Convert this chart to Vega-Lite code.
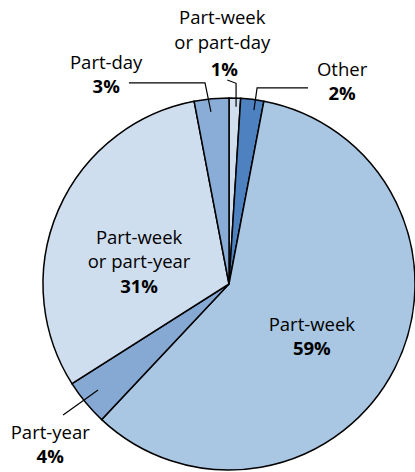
{
  "$schema": "https://vega.github.io/schema/vega-lite/v6.json",
  "width": 372,
  "height": 372,
  "autosize": "none",
  "padding": {"left": 43, "top": 98, "right": 0, "bottom": 2},
  "background": "white",
  "config": {"view": {"stroke": null}, "text": {"font": "Open Sans", "fontSize": 18.5, "fill": "black", "align": "center", "baseline": "alphabetic"}},
  "datasets": {
    "slices": [
      {"category": "Part-week or part-day", "line1": "Part-week", "line2": "or part-day", "share": 0.01, "rank": 1},
      {"category": "Other", "line1": "Other", "line2": "", "share": 0.02, "rank": 2},
      {"category": "Part-week", "line1": "Part-week", "line2": "", "share": 0.59, "rank": 3},
      {"category": "Part-year", "line1": "Part-year", "line2": "", "share": 0.04, "rank": 4},
      {"category": "Part-week or part-year", "line1": "Part-week", "line2": "or part-year", "share": 0.31, "rank": 5},
      {"category": "Part-day", "line1": "Part-day", "line2": "", "share": 0.03, "rank": 6}
    ],
    "leaders": [
      {"leader": "Part-week or part-day", "i": 1, "x": -0.009, "y": 1.097},
      {"leader": "Part-week or part-day", "i": 2, "x": 0.038, "y": 1.079},
      {"leader": "Part-week or part-day", "i": 3, "x": 0.038, "y": 0.953},
      {"leader": "Part-day", "i": 1, "x": -0.538, "y": 1.081},
      {"leader": "Part-day", "i": 2, "x": -0.129, "y": 1.081},
      {"leader": "Part-day", "i": 3, "x": -0.097, "y": 0.925},
      {"leader": "Other", "i": 1, "x": 0.425, "y": 1.054},
      {"leader": "Other", "i": 2, "x": 0.151, "y": 1.054},
      {"leader": "Other", "i": 3, "x": 0.134, "y": 0.935},
      {"leader": "Part-year", "i": 1, "x": -0.892, "y": -0.704},
      {"leader": "Part-year", "i": 2, "x": -0.704, "y": -0.57}
    ]
  },
  "layer": [
    {
      "data": {"name": "slices"},
      "mark": {"type": "arc", "stroke": "black", "strokeWidth": 1.5},
      "encoding": {
        "theta": {"field": "share", "type": "quantitative", "stack": true},
        "order": {"field": "rank", "type": "quantitative"},
        "color": {
          "field": "category", "type": "nominal", "legend": null,
          "scale": {
            "domain": ["Part-week or part-day", "Other", "Part-week", "Part-year", "Part-week or part-year", "Part-day"],
            "range": ["#d0deee", "#4d81c0", "#a9c6e2", "#86a9d4", "#cfdeef", "#8aadd8"]
          }
        }
      }
    },
    {
      "data": {"name": "leaders"},
      "mark": {"type": "line", "stroke": "black", "strokeWidth": 1.2},
      "encoding": {
        "x": {"field": "x", "type": "quantitative", "axis": null, "scale": {"domain": [-1, 1], "nice": false, "zero": false}},
        "y": {"field": "y", "type": "quantitative", "axis": null, "scale": {"domain": [-1, 1], "nice": false, "zero": false}},
        "detail": {"field": "leader"},
        "order": {"field": "i", "type": "quantitative"}
      }
    },
    {
      "data": {"name": "slices"},
      "mark": {"type": "text", "radius": 93, "dy": 5},
      "encoding": {
        "theta": {"field": "share", "type": "quantitative", "stack": true},
        "detail": {"field": "category"}, "order": {"field": "rank", "type": "quantitative"},
        "text": {"field": "line1", "condition": {"test": "datum.category !== 'Part-week'", "value": ""}}
      }
    },
    {
      "data": {"name": "slices"},
      "mark": {"type": "text", "radius": 93, "dy": 29, "fontWeight": "bold"},
      "encoding": {
        "theta": {"field": "share", "type": "quantitative", "stack": true},
        "detail": {"field": "category"}, "order": {"field": "rank", "type": "quantitative"},
        "text": {"field": "share", "format": ".0%", "condition": {"test": "datum.category !== 'Part-week'", "value": ""}}
      }
    },
    {
      "data": {"name": "slices"},
      "mark": {"type": "text", "radius": 98, "dy": -1},
      "encoding": {
        "theta": {"field": "share", "type": "quantitative", "stack": true},
        "detail": {"field": "category"}, "order": {"field": "rank", "type": "quantitative"},
        "text": {"field": "line1", "condition": {"test": "datum.category !== 'Part-week or part-year'", "value": ""}}
      }
    },
    {
      "data": {"name": "slices"},
      "mark": {"type": "text", "radius": 98, "dy": 23},
      "encoding": {
        "theta": {"field": "share", "type": "quantitative", "stack": true},
        "detail": {"field": "category"}, "order": {"field": "rank", "type": "quantitative"},
        "text": {"field": "line2", "condition": {"test": "datum.category !== 'Part-week or part-year'", "value": ""}}
      }
    },
    {
      "data": {"name": "slices"},
      "mark": {"type": "text", "radius": 98, "dy": 48, "fontWeight": "bold"},
      "encoding": {
        "theta": {"field": "share", "type": "quantitative", "stack": true},
        "detail": {"field": "category"}, "order": {"field": "rank", "type": "quantitative"},
        "text": {"field": "share", "format": ".0%", "condition": {"test": "datum.category !== 'Part-week or part-year'", "value": ""}}
      }
    },
    {
      "data": {"name": "slices"},
      "mark": {"type": "text", "radius": 232, "dy": 7},
      "encoding": {
        "theta": {"field": "share", "type": "quantitative", "stack": true},
        "detail": {"field": "category"}, "order": {"field": "rank", "type": "quantitative"},
        "text": {"field": "line1", "condition": {"test": "datum.category !== 'Part-year'", "value": ""}}
      }
    },
    {
      "data": {"name": "slices"},
      "mark": {"type": "text", "radius": 232, "dy": 31, "fontWeight": "bold"},
      "encoding": {
        "theta": {"field": "share", "type": "quantitative", "stack": true},
        "detail": {"field": "category"}, "order": {"field": "rank", "type": "quantitative"},
        "text": {"field": "share", "format": ".0%", "condition": {"test": "datum.category !== 'Part-year'", "value": ""}}
      }
    },
    {
      "data": {"name": "slices"},
      "mark": {"type": "text", "radius": 200, "dx": -104, "dy": -16},
      "encoding": {
        "theta": {"field": "share", "type": "quantitative", "stack": true},
        "detail": {"field": "category"}, "order": {"field": "rank", "type": "quantitative"},
        "text": {"field": "line1", "condition": {"test": "datum.category !== 'Part-day'", "value": ""}}
      }
    },
    {
      "data": {"name": "slices"},
      "mark": {"type": "text", "radius": 200, "dx": -104, "dy": 8, "fontWeight": "bold"},
      "encoding": {
        "theta": {"field": "share", "type": "quantitative", "stack": true},
        "detail": {"field": "category"}, "order": {"field": "rank", "type": "quantitative"},
        "text": {"field": "share", "format": ".0%", "condition": {"test": "datum.category !== 'Part-day'", "value": ""}}
      }
    },
    {
      "data": {"name": "slices"},
      "mark": {"type": "text", "radius": 200, "dx": -13, "dy": -60},
      "encoding": {
        "theta": {"field": "share", "type": "quantitative", "stack": true},
        "detail": {"field": "category"}, "order": {"field": "rank", "type": "quantitative"},
        "text": {"field": "line1", "condition": {"test": "datum.category !== 'Part-week or part-day'", "value": ""}}
      }
    },
    {
      "data": {"name": "slices"},
      "mark": {"type": "text", "radius": 200, "dx": -13, "dy": -35},
      "encoding": {
        "theta": {"field": "share", "type": "quantitative", "stack": true},
        "detail": {"field": "category"}, "order": {"field": "rank", "type": "quantitative"},
        "text": {"field": "line2", "condition": {"test": "datum.category !== 'Part-week or part-day'", "value": ""}}
      }
    },
    {
      "data": {"name": "slices"},
      "mark": {"type": "text", "radius": 200, "dx": -11, "dy": -8, "fontWeight": "bold"},
      "encoding": {
        "theta": {"field": "share", "type": "quantitative", "stack": true},
        "detail": {"field": "category"}, "order": {"field": "rank", "type": "quantitative"},
        "text": {"field": "share", "format": ".0%", "condition": {"test": "datum.category !== 'Part-week or part-day'", "value": ""}}
      }
    },
    {
      "data": {"name": "slices"},
      "mark": {"type": "text", "radius": 200, "dx": 88, "dy": -10},
      "encoding": {
        "theta": {"field": "share", "type": "quantitative", "stack": true},
        "detail": {"field": "category"}, "order": {"field": "rank", "type": "quantitative"},
        "text": {"field": "line1", "condition": {"test": "datum.category !== 'Other'", "value": ""}}
      }
    },
    {
      "data": {"name": "slices"},
      "mark": {"type": "text", "radius": 200, "dx": 88, "dy": 14, "fontWeight": "bold"},
      "encoding": {
        "theta": {"field": "share", "type": "quantitative", "stack": true},
        "detail": {"field": "category"}, "order": {"field": "rank", "type": "quantitative"},
        "text": {"field": "share", "format": ".0%", "condition": {"test": "datum.category !== 'Other'", "value": ""}}
      }
    }
  ]
}
